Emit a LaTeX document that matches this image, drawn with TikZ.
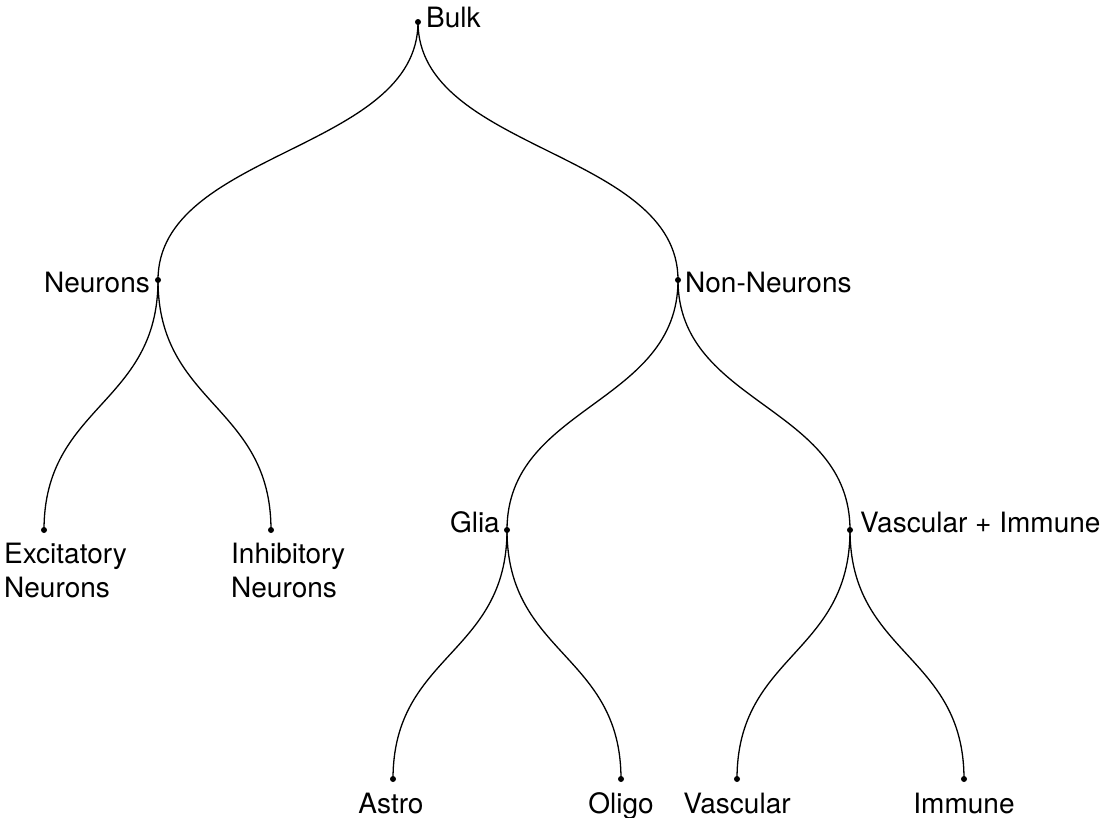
\documentclass[tikz,border=0pt]{standalone}
\usepackage{fontspec}
\setmainfont{TeX Gyre Heros}
\tikzstyle{dot} = [circle, fill=black, inner sep=0pt, minimum size=6pt]
\tikzstyle{lbl} = [inner sep=0pt, font=\fontsize{28}{34}\selectfont]
\tikzstyle{link} = [line width=1.3pt]

\begin{document}
\begin{tikzpicture}[x=1pt, y=-1pt]
    \useasboundingbox (0,0) rectangle (1106,817);

    \node (bulk) [dot] at (418,22) {};
    \node (neur) [dot] at (158,280) {};
    \node (nonneur) [dot] at (678,280) {};
    \node (exc) [dot] at (44,530) {};
    \node (inh) [dot] at (271,530) {};
    \node (glia) [dot] at (507,530) {};
    \node (vasimm) [dot] at (850,530) {};
    \node (astro) [dot] at (393,779) {};
    \node (oligo) [dot] at (621,779) {};
    \node (vasc) [dot] at (737,779) {};
    \node (imm) [dot] at (964,779) {};

    \node (bulk-l) [lbl, anchor=base west] at (426,27) {Bulk};
    \node (neur-l) [lbl, anchor=base east] at (150,292) {Neurons};
    \node (nonneur-l) [lbl, anchor=base west] at (685,292) {Non-Neurons};
    \node (exc-l) [lbl, anchor=north west, align=left] at (4,543) {Excitatory\\Neurons};
    \node (inh-l) [lbl, anchor=north west, align=left] at (231,543) {Inhibitory\\Neurons};
    \node (glia-l) [lbl, anchor=base east] at (500,532) {Glia};
    \node (vasimm-l) [lbl, anchor=base west] at (860,532) {Vascular + Immune};
    \node (astro-l) [lbl, anchor=base] at (391,813) {Astro};
    \node (oligo-l) [lbl, anchor=base] at (621,813) {Oligo};
    \node (vasc-l) [lbl, anchor=base] at (737,813) {Vascular};
    \node (imm-l) [lbl, anchor=base] at (964,813) {Immune};

    \draw[link] (bulk.center) .. controls +(0,129) and +(0,-129) .. (neur.center);
    \draw[link] (bulk.center) .. controls +(0,129) and +(0,-129) .. (nonneur.center);
    \draw[link] (neur.center) .. controls +(0,125) and +(0,-125) .. (exc.center);
    \draw[link] (neur.center) .. controls +(0,125) and +(0,-125) .. (inh.center);
    \draw[link] (nonneur.center) .. controls +(0,125) and +(0,-125) .. (glia.center);
    \draw[link] (nonneur.center) .. controls +(0,125) and +(0,-125) .. (vasimm.center);
    \draw[link] (glia.center) .. controls +(0,125) and +(0,-125) .. (astro.center);
    \draw[link] (glia.center) .. controls +(0,125) and +(0,-125) .. (oligo.center);
    \draw[link] (vasimm.center) .. controls +(0,125) and +(0,-125) .. (vasc.center);
    \draw[link] (vasimm.center) .. controls +(0,125) and +(0,-125) .. (imm.center);
\end{tikzpicture}
\end{document}
